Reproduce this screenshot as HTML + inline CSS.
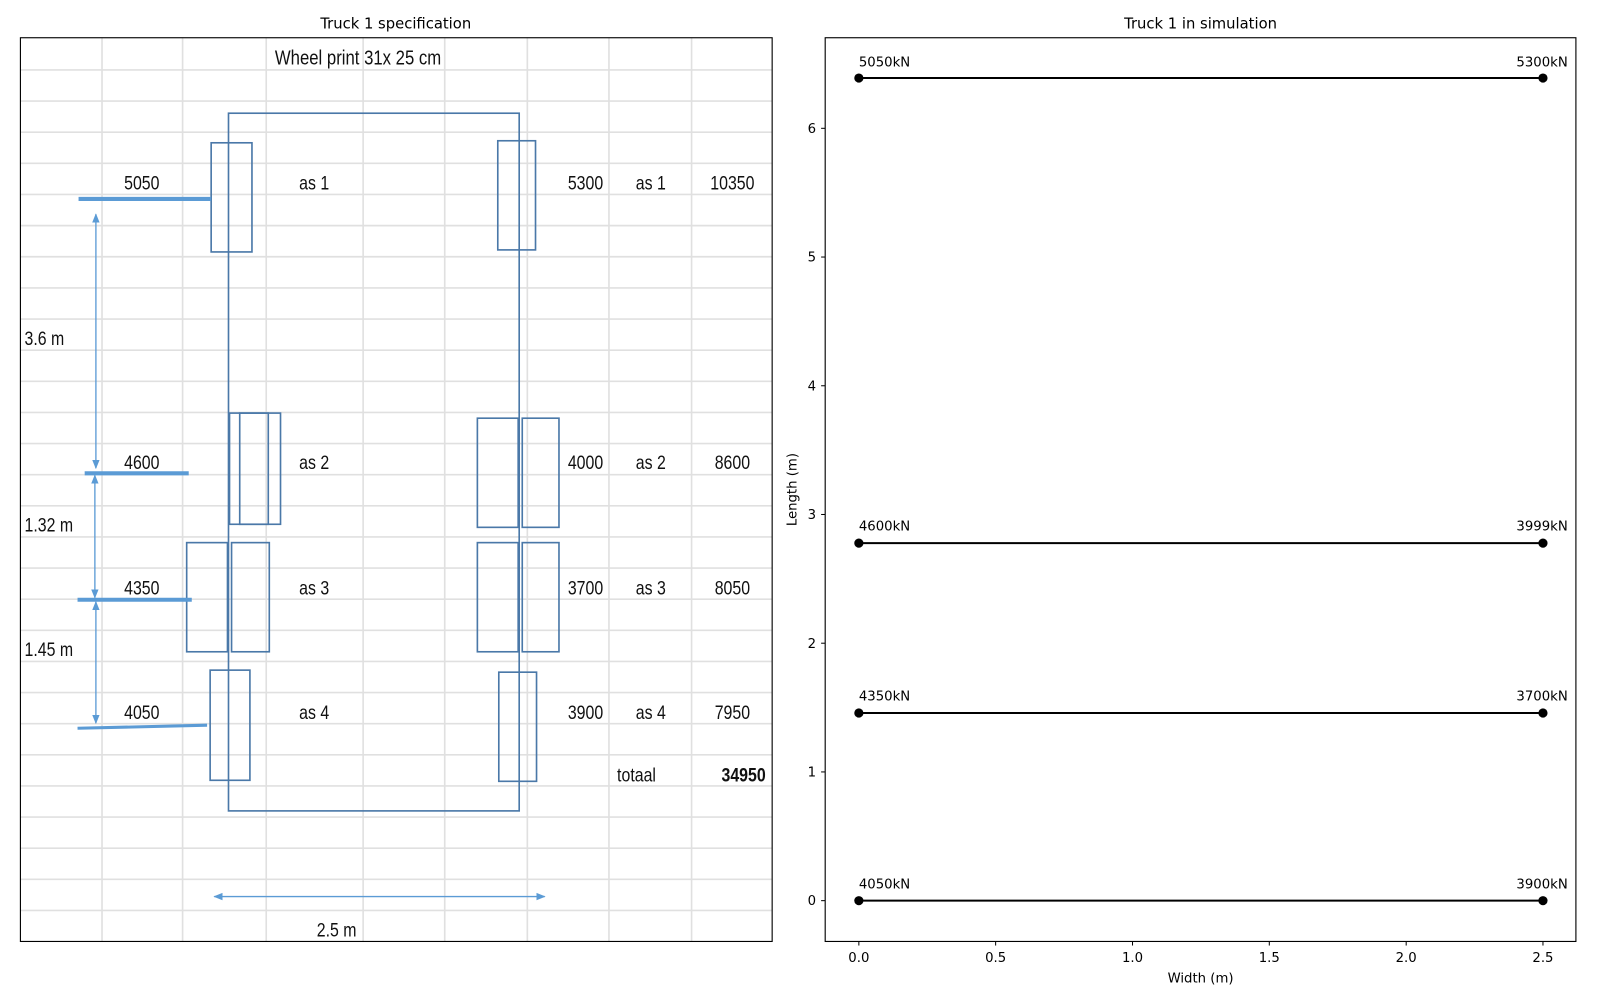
<!DOCTYPE html>
<html><head><meta charset="utf-8"><style>
html,body{margin:0;padding:0;background:#fff;width:1600px;height:1000px;overflow:hidden}
.c{font-family:"Liberation Sans",sans-serif;font-size:19px;fill:#111}
.d{font-family:"DejaVu Sans","Liberation Sans",sans-serif;font-size:13px;fill:#000}
</style></head><body>
<svg width="1600" height="1000" viewBox="0 0 1568.6 980.4" xmlns="http://www.w3.org/2000/svg">
<defs>
<marker id="ar" viewBox="0 0 10 10" refX="9" refY="5" markerWidth="7" markerHeight="7" orient="auto-start-reverse"><path d="M0,1 L10,5 L0,9 z" fill="#5b9bd5"/></marker>
</defs>
<text x="388" y="28" text-anchor="middle" class="d" style="font-size:14.5px">Truck 1 specification</text>
<text x="1177" y="28" text-anchor="middle" class="d" style="font-size:14.5px">Truck 1 in simulation</text>

<g stroke="#e0e0e0" stroke-width="1.6">
<line x1="100" y1="37" x2="100" y2="923"/><line x1="179" y1="37" x2="179" y2="923"/>
<line x1="261" y1="37" x2="261" y2="923"/><line x1="356" y1="37" x2="356" y2="923"/>
<line x1="436" y1="37" x2="436" y2="923"/><line x1="517" y1="37" x2="517" y2="923"/>
<line x1="597" y1="37" x2="597" y2="923"/><line x1="678" y1="37" x2="678" y2="923"/>
</g>
<g stroke="#e0e0e0" stroke-width="1.6" id="hl"></g>
<g stroke="#4a78a8" stroke-width="1.6" fill="none">
<rect x="224" y="111" width="285" height="684"/>
<rect x="207" y="140" width="40" height="107"/>
<rect x="488" y="138" width="37" height="107"/>
<rect x="225" y="405" width="38" height="109"/><rect x="235" y="405" width="40" height="109"/>
<rect x="468" y="410" width="40" height="107"/><rect x="512" y="410" width="36" height="107"/>
<rect x="183" y="532" width="40" height="107"/><rect x="227" y="532" width="37" height="107"/>
<rect x="468" y="532" width="40" height="107"/><rect x="512" y="532" width="36" height="107"/>
<rect x="206" y="657" width="39" height="108"/>
<rect x="489" y="659" width="37" height="107"/>
</g>
<g stroke="#5b9bd5" fill="none">
<line x1="77" y1="195" x2="207" y2="195" stroke-width="4"/>
<line x1="83" y1="464" x2="185" y2="464" stroke-width="4"/>
<line x1="76" y1="588" x2="188" y2="588" stroke-width="4"/>
<line x1="76" y1="714" x2="203" y2="711" stroke-width="3"/>
<line x1="94" y1="210" x2="94" y2="459" stroke-width="1.3" marker-start="url(#ar)" marker-end="url(#ar)"/>
<line x1="93" y1="466" x2="93" y2="586" stroke-width="1.3" marker-start="url(#ar)" marker-end="url(#ar)"/>
<line x1="94" y1="590" x2="94" y2="709" stroke-width="1.3" marker-start="url(#ar)" marker-end="url(#ar)"/>
<line x1="210" y1="879" x2="534" y2="879" stroke-width="1.3" marker-start="url(#ar)" marker-end="url(#ar)"/>
</g>
<g class="c" text-anchor="middle">
<text transform="translate(351,63) scale(0.82,1)" style="font-size:20px">Wheel print 31x 25 cm</text>
<text transform="translate(139,186) scale(0.82,1)">5050</text><text transform="translate(308,186) scale(0.82,1)">as 1</text><text transform="translate(574,186) scale(0.82,1)">5300</text><text transform="translate(638,186) scale(0.82,1)">as 1</text><text transform="translate(718,186) scale(0.82,1)">10350</text>
<text transform="translate(139,460) scale(0.82,1)">4600</text><text transform="translate(308,460) scale(0.82,1)">as 2</text><text transform="translate(574,460) scale(0.82,1)">4000</text><text transform="translate(638,460) scale(0.82,1)">as 2</text><text transform="translate(718,460) scale(0.82,1)">8600</text>
<text transform="translate(139,583) scale(0.82,1)">4350</text><text transform="translate(308,583) scale(0.82,1)">as 3</text><text transform="translate(574,583) scale(0.82,1)">3700</text><text transform="translate(638,583) scale(0.82,1)">as 3</text><text transform="translate(718,583) scale(0.82,1)">8050</text>
<text transform="translate(139,705) scale(0.82,1)">4050</text><text transform="translate(308,705) scale(0.82,1)">as 4</text><text transform="translate(574,705) scale(0.82,1)">3900</text><text transform="translate(638,705) scale(0.82,1)">as 4</text><text transform="translate(718,705) scale(0.82,1)">7950</text>
<text transform="translate(624,766) scale(0.82,1)">totaal</text><text transform="translate(729,766) scale(0.82,1)" font-weight="bold">34950</text>
<text transform="translate(330,918) scale(0.82,1)">2.5 m</text>
</g>
<g class="c">
<text transform="translate(24,338) scale(0.82,1)">3.6 m</text><text transform="translate(24,521) scale(0.82,1)">1.32 m</text><text transform="translate(24,643) scale(0.82,1)">1.45 m</text>
</g>
<rect x="20" y="37" width="737" height="886" fill="none" stroke="#000" stroke-width="1.1"/>

<rect x="809" y="37" width="736" height="886" fill="none" stroke="#000" stroke-width="1.1"/>
<g stroke="#000" stroke-width="1">
<line x1="842" y1="923" x2="842" y2="927"/><line x1="976.1" y1="923" x2="976.1" y2="927"/>
<line x1="1110.3" y1="923" x2="1110.3" y2="927"/><line x1="1244.4" y1="923" x2="1244.4" y2="927"/>
<line x1="1378.6" y1="923" x2="1378.6" y2="927"/><line x1="1512.7" y1="923" x2="1512.7" y2="927"/>
<line x1="805" y1="883" x2="809" y2="883"/><line x1="805" y1="756.8" x2="809" y2="756.8"/>
<line x1="805" y1="630.6" x2="809" y2="630.6"/><line x1="805" y1="504.4" x2="809" y2="504.4"/>
<line x1="805" y1="378.2" x2="809" y2="378.2"/><line x1="805" y1="252" x2="809" y2="252"/>
<line x1="805" y1="125.8" x2="809" y2="125.8"/>
</g>
<g class="d" text-anchor="middle">
<text x="842" y="943">0.0</text><text x="976.1" y="943">0.5</text><text x="1110.3" y="943">1.0</text>
<text x="1244.4" y="943">1.5</text><text x="1378.6" y="943">2.0</text><text x="1512.7" y="943">2.5</text>
<text x="1177" y="963">Width (m)</text>
<text transform="translate(781,480) rotate(-90)">Length (m)</text>
</g>
<g class="d" text-anchor="end">
<text x="800" y="887.5">0</text><text x="800" y="761.3">1</text><text x="800" y="635.1">2</text>
<text x="800" y="508.9">3</text><text x="800" y="382.7">4</text><text x="800" y="256.5">5</text><text x="800" y="130.3">6</text>
</g>
<g stroke="#000" stroke-width="2">
<line x1="842" y1="76.5" x2="1512.7" y2="76.5"/>
<line x1="842" y1="532.5" x2="1512.7" y2="532.5"/>
<line x1="842" y1="699" x2="1512.7" y2="699"/>
<line x1="842" y1="883" x2="1512.7" y2="883"/>
</g>
<g fill="#000">
<circle cx="842" cy="76.5" r="4.5"/><circle cx="1512.7" cy="76.5" r="4.5"/>
<circle cx="842" cy="532.5" r="4.5"/><circle cx="1512.7" cy="532.5" r="4.5"/>
<circle cx="842" cy="699" r="4.5"/><circle cx="1512.7" cy="699" r="4.5"/>
<circle cx="842" cy="883" r="4.5"/><circle cx="1512.7" cy="883" r="4.5"/>
</g>
<g class="d">
<text x="842" y="65">5050kN</text><text x="842" y="520">4600kN</text>
<text x="842" y="687">4350kN</text><text x="842" y="871">4050kN</text>
</g>
<g class="d" text-anchor="end">
<text x="1537" y="65">5300kN</text><text x="1537" y="520">3999kN</text>
<text x="1537" y="687">3700kN</text><text x="1537" y="871">3900kN</text>
</g>
</svg>
<script>
var g=document.getElementById('hl');
for(var k=0;k<28;k++){var y=68.6+30.52*k;var l=document.createElementNS('http://www.w3.org/2000/svg','line');
l.setAttribute('x1',20);l.setAttribute('x2',757);l.setAttribute('y1',y);l.setAttribute('y2',y);g.appendChild(l);}
</script>
</body></html>
